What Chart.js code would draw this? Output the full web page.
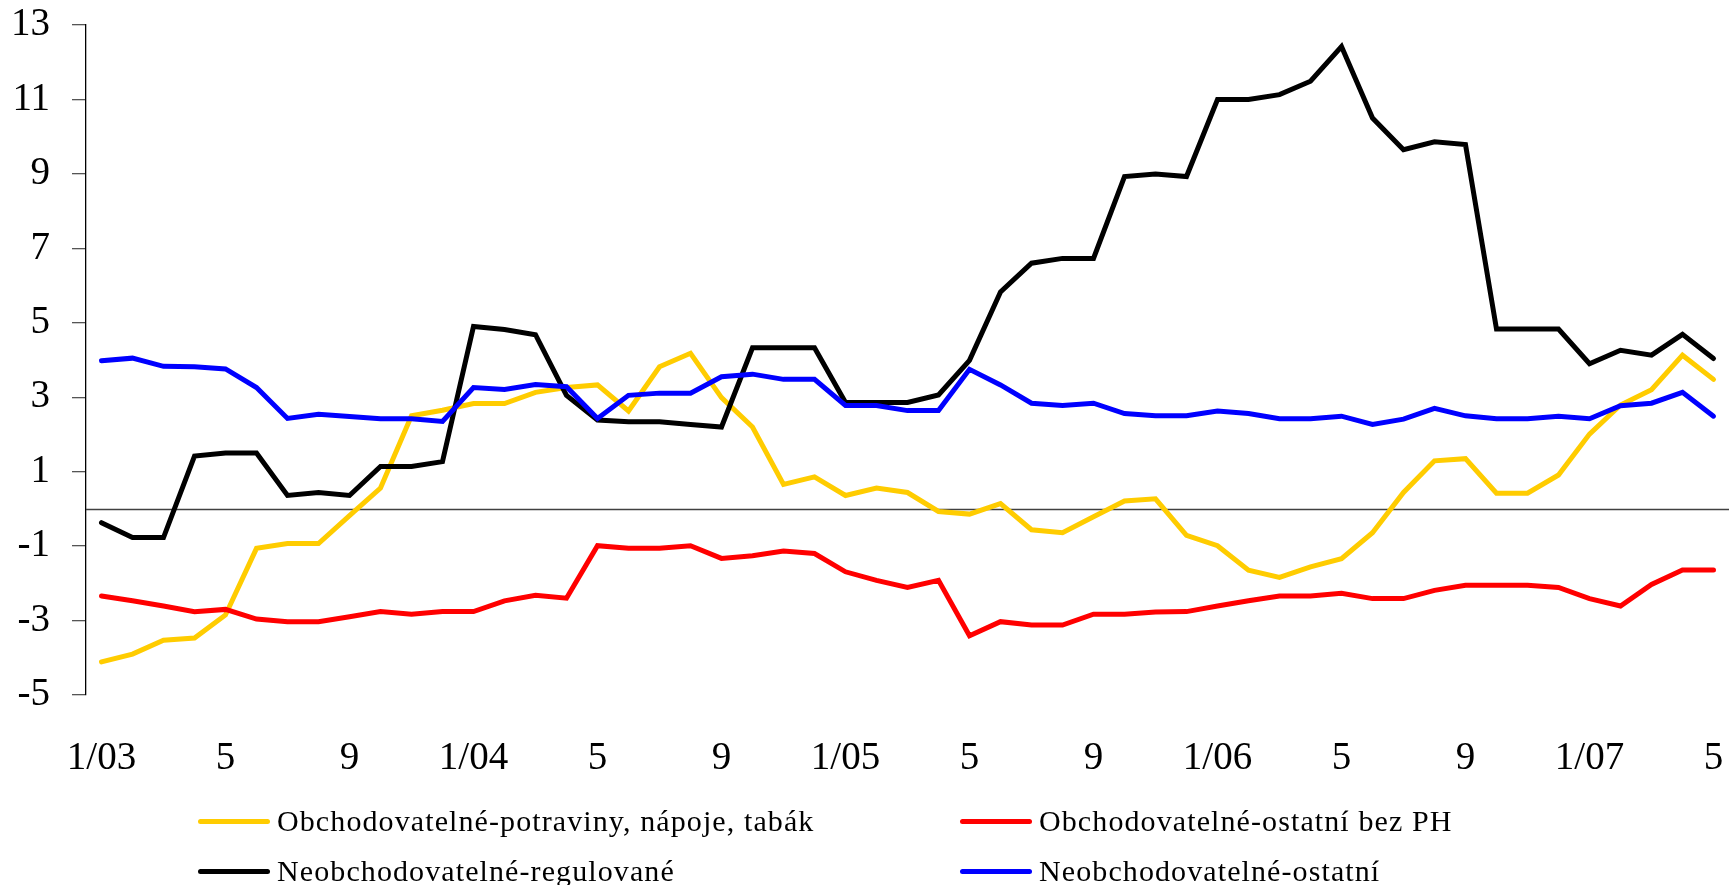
<!DOCTYPE html>
<html>
<head>
<meta charset="utf-8">
<script src="https://cdn.jsdelivr.net/npm/chart.js@4.4.1/dist/chart.umd.min.js"></script>
<style>
html,body{margin:0;padding:0;background:#fff;}
#wrap{position:relative;width:1730px;height:885px;overflow:hidden;}
#c{position:absolute;left:0;top:0;}
.leg{position:absolute;display:flex;align-items:center;height:40px;font-family:"Liberation Serif","Times New Roman",serif;font-size:30px;letter-spacing:1.1px;color:#000;white-space:nowrap;}
.leg .sw{width:72px;height:5px;border-radius:3px;margin-right:7px;flex:none;}
</style>
</head>
<body>
<div id="wrap"><canvas id="c" width="1730" height="885"></canvas></div>
<script>
// Months 1/03 .. 5/07
const categories = [
  "1/03","2","3","4","5","6","7","8","9","10","11","12",
  "1/04","2","3","4","5","6","7","8","9","10","11","12",
  "1/05","2","3","4","5","6","7","8","9","10","11","12",
  "1/06","2","3","4","5","6","7","8","9","10","11","12",
  "1/07","2","3","4","5"
];

const seriesNames = [
  "Obchodovatelné-potraviny, nápoje, tabák",
  "Obchodovatelné-ostatní bez PH",
  "Neobchodovatelné-regulované",
  "Neobchodovatelné-ostatní"
];

const potraviny = [-4.11,-3.90,-3.53,-3.47,-2.85,-1.06,-0.93,-0.93,-0.18,0.56,
  2.50,2.65,2.83,2.83,3.13,3.26,3.33,2.63,3.82,4.18,
  2.99,2.20,0.66,0.86,0.36,0.56,0.44,-0.07,-0.14,0.14,
  -0.56,-0.64,-0.21,0.21,0.27,-0.71,-0.99,-1.65,-1.84,-1.56,
  -1.34,-0.64,0.44,1.29,1.35,0.42,0.42,0.91,2.01,2.79,
  3.20,4.13,3.48];

const ostatniBezPH = [-2.34,-2.47,-2.61,-2.76,-2.70,-2.96,-3.03,-3.03,-2.90,-2.76,
  -2.83,-2.76,-2.76,-2.47,-2.32,-2.40,-0.99,-1.06,-1.06,-0.99,
  -1.33,-1.26,-1.13,-1.20,-1.69,-1.92,-2.11,-1.92,-3.41,-3.03,
  -3.12,-3.12,-2.83,-2.83,-2.77,-2.76,-2.61,-2.47,-2.34,-2.34,
  -2.27,-2.41,-2.41,-2.19,-2.05,-2.05,-2.05,-2.11,-2.41,-2.61,
  -2.03,-1.64,-1.64];

const regulovane = [-0.37,-0.77,-0.77,1.42,1.50,1.50,0.36,0.44,0.36,1.14,
  1.14,1.27,4.90,4.82,4.68,3.05,2.39,2.34,2.34,2.27,
  2.20,4.33,4.33,4.33,2.86,2.86,2.86,3.06,3.99,5.83,
  6.60,6.73,6.73,8.93,9.00,8.93,11.00,11.00,11.13,11.49,
  12.42,10.50,9.65,9.86,9.79,4.83,4.83,4.83,3.90,4.26,
  4.13,4.69,4.04];

const neobOstatni = [3.98,4.05,3.83,3.82,3.76,3.26,2.43,2.54,2.48,2.42,
  2.42,2.35,3.26,3.21,3.34,3.28,2.43,3.05,3.11,3.11,
  3.55,3.62,3.48,3.48,2.78,2.78,2.64,2.64,3.75,3.33,
  2.84,2.78,2.84,2.56,2.50,2.50,2.63,2.56,2.42,2.42,
  2.49,2.27,2.41,2.70,2.50,2.42,2.42,2.49,2.42,2.77,
  2.84,3.13,2.49];

const yMin = -5, yMax = 13, yStep = 2;

const colors = ["#FFCC00","#FF0000","#000000","#0000FF"];
const values = [potraviny, ostatniBezPH, regulovane, neobOstatni];
const drawOrder = [3,2,1,0];

const serif = "'Liberation Serif','Times New Roman',serif";

const zeroLine = {
  id:'zeroLine',
  beforeDatasetsDraw(chart){
    const {ctx, chartArea, scales} = chart;
    const y = Math.round(scales.y.getPixelForValue(0)) + 0.5;
    ctx.save();
    ctx.strokeStyle = '#404040';
    ctx.lineWidth = 1.3;
    ctx.beginPath();
    ctx.moveTo(chartArea.left, y);
    ctx.lineTo(chartArea.right, y);
    ctx.stroke();
    ctx.restore();
  }
};

const chart = new Chart(document.getElementById('c'), {
  type:'line',
  data:{
    labels: categories,
    datasets: seriesNames.map((n,i)=>({
      label:n,
      data:values[i],
      borderColor:colors[i],
      backgroundColor:colors[i],
      borderWidth:5,
      pointRadius:0,
      pointHoverRadius:0,
      tension:0,
      fill:false,
      borderCapStyle:'round',
      borderJoinStyle:'miter',
      order:drawOrder[i]
    }))
  },
  options:{
    responsive:false,
    animation:false,
    devicePixelRatio:1,
    layout:{padding:{top:25,bottom:90,left:0,right:1}},
    plugins:{legend:{display:false},tooltip:{enabled:false}},
    scales:{
      x:{
        offset:true,
        grid:{display:false,drawTicks:false},
        border:{display:false},
        ticks:{
          autoSkip:false,maxRotation:0,minRotation:0,padding:40,
          color:'#000',font:{family:serif,size:39},
          callback:(v,i)=> i%4===0 ? categories[i] : ''
        },
        afterFit(s){ s.height = 100; s.paddingLeft = 0; s.paddingRight = 0; }
      },
      y:{
        min:yMin,max:yMax,
        ticks:{stepSize:yStep,color:'#000',font:{family:serif,size:39},padding:22},
        grid:{drawOnChartArea:false,drawTicks:true,tickLength:14,color:'#555',lineWidth:1.3},
        border:{display:true,color:'#000',width:1.3},
        afterFit(s){ s.width = 86; s.paddingTop = 0; s.paddingBottom = 0; }
      }
    }
  },
  plugins:[zeroLine]
});

// HTML legend (2 x 2 grid)
const legendPos = [[198,801],[960,801],[198,851],[960,851]];
const wrap = document.getElementById('wrap');
chart.data.datasets.forEach((ds,i)=>{
  const d = document.createElement('div');
  d.className='leg';
  d.style.left = legendPos[i][0]+'px';
  d.style.top = legendPos[i][1]+'px';
  const sw = document.createElement('span');
  sw.className='sw';
  sw.style.background = ds.borderColor;
  const t = document.createElement('span');
  t.textContent = ds.label;
  d.appendChild(sw); d.appendChild(t);
  wrap.appendChild(d);
});
</script>
</body>
</html>
